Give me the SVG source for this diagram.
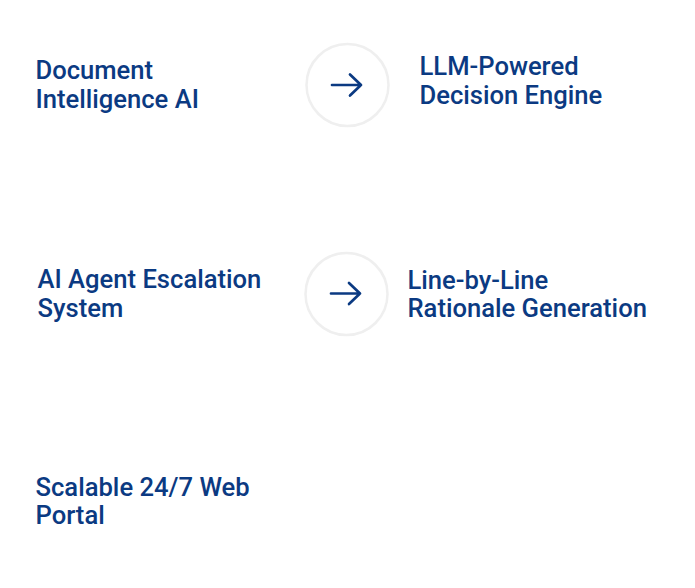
<svg xmlns="http://www.w3.org/2000/svg" width="695" height="588" viewBox="0 0 695 588">
<style>
.t{font-family:Roboto,"Liberation Sans",sans-serif;font-weight:500;font-size:25.6px;fill:#0b3a82}
.c{fill:#fff;stroke:#efefef;stroke-width:2.5}
.a{fill:none;stroke:#0b3a82;stroke-width:2.7;stroke-linecap:round;stroke-linejoin:round}
</style>
<rect width="695" height="588" fill="#fff"/>
<g id="node-document-intelligence">
<text class="t" x="35.5" y="78.5">Document</text>
<text class="t" x="35.5" y="108.3">Intelligence AI</text>
</g>
<g id="node-llm-decision">
<text class="t" x="419.5" y="75">LLM-Powered</text>
<text class="t" x="419.5" y="104">Decision Engine</text>
</g>
<g id="node-escalation">
<text class="t" x="37.5" y="287.5">AI Agent Escalation</text>
<text class="t" x="37.5" y="316.7">System</text>
</g>
<g id="node-rationale">
<text class="t" x="407.5" y="288.5">Line-by-Line</text>
<text class="t" x="407.5" y="317.3">Rationale Generation</text>
</g>
<g id="node-portal">
<text class="t" x="35.5" y="495.5">Scalable 24/7 Web</text>
<text class="t" x="35.5" y="523.5">Portal</text>
</g>
<g id="connectors">
<circle class="c" cx="347.5" cy="85" r="41"/>
<path class="a" d="M332 85H361M350 74.5L361 85L350 95.5"/>
<circle class="c" cx="346.5" cy="294" r="41"/>
<path class="a" d="M331 293.5H360M349 283L360 293.5L349 304"/>
</g>
</svg>
